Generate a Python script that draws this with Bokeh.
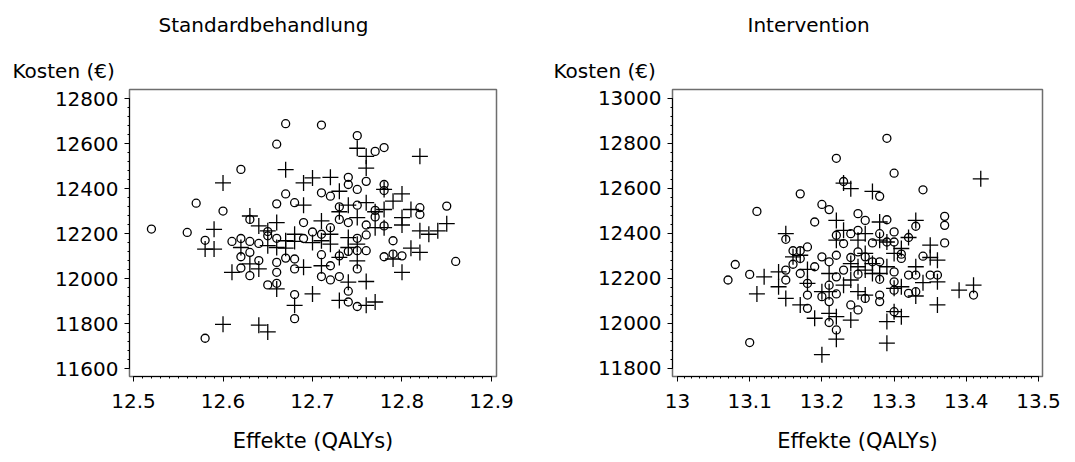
from bokeh.plotting import figure
from bokeh.layouts import row
from bokeh.models import Title, SingleIntervalTicker, CustomJSTickFormatter
from bokeh.embed import file_html
from bokeh.resources import INLINE

FONT = "DejaVu Sans"

# Standardbehandlung: circles (group 1) and crosses (group 2)
std_circ_x = [12.52, 12.56, 12.57, 12.58, 12.58, 12.60, 12.62, 12.61, 12.62, 12.62,
              12.62, 12.63, 12.63, 12.63, 12.63, 12.64, 12.64, 12.65, 12.65, 12.65,
              12.66, 12.66, 12.66, 12.66, 12.66, 12.66, 12.67, 12.67, 12.67, 12.68,
              12.68, 12.68, 12.68, 12.68, 12.69, 12.69, 12.70, 12.71, 12.71, 12.71,
              12.71, 12.71, 12.72, 12.72, 12.72, 12.72, 12.73, 12.73, 12.73, 12.73,
              12.74, 12.74, 12.74, 12.74, 12.74, 12.74, 12.75, 12.75, 12.75, 12.75,
              12.75, 12.75, 12.75, 12.76, 12.76, 12.76, 12.76, 12.77, 12.77, 12.77,
              12.78, 12.78, 12.78, 12.78, 12.78, 12.79, 12.79, 12.80, 12.82, 12.82,
              12.85, 12.86]
std_circ_y = [12220, 12205, 12335, 12170, 11735, 12300, 12485, 12165, 12178, 12097,
              12047, 12263, 12165, 12116, 12013, 12156, 12080, 12209, 12190, 11972,
              12597, 12332, 12179, 12072, 12028, 11979, 12688, 12376, 12091, 12337,
              12087, 12043, 11929, 11822, 12249, 12178, 12207, 12682, 12381, 12197,
              12106, 12009, 12366, 12226, 12057, 11994, 12319, 12263, 12101, 12009,
              12450, 12418, 12249, 12121, 11944, 11896, 12635, 12396, 12326, 12179,
              12124, 12043, 11876, 12432, 12238, 12194, 12124, 12565, 12303, 12274,
              12582, 12418, 12391, 12234, 12097, 12168, 12109, 12101, 12315, 12285,
              12322, 12076]
std_cross_x = [12.60, 12.59, 12.58, 12.59, 12.60, 12.61, 12.62, 12.63, 12.63, 12.64,
               12.64, 12.65, 12.64, 12.65, 12.66, 12.66, 12.66, 12.67, 12.67, 12.68,
               12.68, 12.69, 12.69, 12.69, 12.70, 12.70, 12.70, 12.71, 12.71, 12.72,
               12.72, 12.73, 12.73, 12.73, 12.73, 12.74, 12.74, 12.74, 12.74, 12.75,
               12.75, 12.75, 12.76, 12.76, 12.76, 12.76, 12.76, 12.77, 12.77, 12.78,
               12.78, 12.79, 12.79, 12.80, 12.80, 12.80, 12.81, 12.81, 12.82, 12.82,
               12.82, 12.83, 12.84, 12.85, 12.80, 12.71, 12.72, 12.75, 12.67, 12.65,
               12.68, 12.77, 12.78]
std_cross_y = [12425, 12219, 12131, 12131, 11797, 12028, 12138, 12278, 12065, 12043,
               11793, 11763, 12234, 12212, 12249, 12138, 11954, 12484, 12135, 12165,
               11881, 12326, 12425, 12050, 12447, 11932, 12160, 12256, 12057, 12450,
               12197, 12388, 12297, 12094, 11903, 12326, 12182, 12138, 11984, 12579,
               12271, 12079, 12543, 12491, 12337, 11987, 11881, 11896, 12297, 12396,
               12226, 12344, 12087, 12376, 12271, 12028, 12307, 12135, 12543, 12212,
               12116, 12197, 12212, 12244, 12238, 12168, 12153, 12153, 12168, 12146,
               12197, 12226, 12307]

# Intervention: circles (group 1) and crosses (group 2)
int_circ_x = [13.07, 13.08, 13.10, 13.10, 13.11, 13.15, 13.15, 13.15, 13.16, 13.16,
              13.17, 13.17, 13.17, 13.17, 13.18, 13.18, 13.18, 13.18, 13.19, 13.19,
              13.20, 13.20, 13.20, 13.21, 13.21, 13.21, 13.21, 13.21, 13.22, 13.22,
              13.22, 13.22, 13.22, 13.22, 13.23, 13.23, 13.23, 13.24, 13.24, 13.24,
              13.25, 13.25, 13.25, 13.25, 13.25, 13.26, 13.26, 13.26, 13.27, 13.27,
              13.28, 13.28, 13.28, 13.28, 13.28, 13.28, 13.29, 13.29, 13.29, 13.30,
              13.30, 13.30, 13.30, 13.30, 13.30, 13.30, 13.31, 13.32, 13.32, 13.32,
              13.33, 13.33, 13.33, 13.34, 13.34, 13.35, 13.36, 13.37, 13.37, 13.37,
              13.41, 13.31]
int_circ_y = [12193, 12262, 12218, 11915, 12498, 12237, 12193, 12374, 12323, 12263,
              12576, 12323, 12289, 12222, 12340, 12178, 12126, 12067, 12451, 12252,
              12529, 12296, 12119, 12506, 12274, 12170, 12097, 12004, 12734, 12392,
              12303, 12207, 12131, 11971, 12631, 12355, 12237, 12399, 12293, 12082,
              12488, 12414, 12318, 12219, 12060, 12458, 12296, 12111, 12358, 12274,
              12565, 12399, 12274, 12196, 12126, 12097, 12823, 12461, 12362, 12668,
              12407, 12362, 12229, 12185, 12148, 12052, 12289, 12382, 12215, 12134,
              12432, 12215, 12141, 12594, 12299, 12215, 12215, 12476, 12436, 12358,
              12126, 12308]
int_cross_x = [13.12, 13.11, 13.14, 13.14, 13.15, 13.15, 13.17, 13.17, 13.18, 13.19,
               13.20, 13.21, 13.21, 13.22, 13.22, 13.22, 13.23, 13.23, 13.24, 13.24,
               13.25, 13.25, 13.26, 13.26, 13.27, 13.27, 13.28, 13.28, 13.29, 13.29,
               13.30, 13.31, 13.31, 13.32, 13.33, 13.33, 13.33, 13.34, 13.35, 13.35,
               13.36, 13.36, 13.36, 13.39, 13.41, 13.42, 13.29, 13.30, 13.31, 13.25,
               13.26, 13.23, 13.28, 13.20, 13.21, 13.22, 13.24, 13.30, 13.29, 13.27,
               13.16, 13.18, 13.26, 13.24]
int_cross_y = [12207, 12131, 12229, 12163, 12399, 12111, 12082, 12303, 12240, 12023,
               11861, 12222, 12045, 11930, 12370, 12458, 12624, 12170, 12599, 12015,
               12141, 12370, 12399, 12126, 12587, 12266, 12451, 12222, 12008, 11912,
               12052, 12030, 12163, 12382, 12458, 12252, 12122, 12181, 12348, 12293,
               12281, 12082, 12185, 12148, 12170, 12643, 12362, 12311, 12333, 12252,
               12237, 12414, 12370, 12141, 12141, 12030, 12193, 12156, 12252, 12222,
               12296, 12178, 12311, 12266]

fmt_x = CustomJSTickFormatter(code="return (Math.round(tick * 10) / 10).toString()")


def panel(title, width, border_left, border_right, border_top,
          x_range, y_range, x_bounds, y_bounds,
          cx, cy, kx, ky, title_offset, kosten_offset):
    p = figure(width=width, height=462, output_backend="svg", toolbar_location=None,
               x_range=x_range, y_range=y_range, title=None,
               min_border_left=border_left, min_border_right=border_right,
               min_border_top=border_top, min_border_bottom=86)
    p.grid.visible = False
    p.outline_line_color = "#6e6e6e"
    p.outline_line_width = 1.5
    p.background_fill_color = "white"
    p.border_fill_color = "white"

    p.xaxis.ticker = SingleIntervalTicker(interval=0.1, num_minor_ticks=10)
    p.yaxis.ticker = SingleIntervalTicker(interval=200, num_minor_ticks=5)
    p.xaxis.formatter = fmt_x
    p.xaxis.bounds = x_bounds
    p.yaxis.bounds = y_bounds
    for ax in (p.xaxis[0], p.yaxis[0]):
        ax.axis_line_color = "black"
        ax.major_tick_line_color = "black"
        ax.minor_tick_line_color = "black"
        ax.major_tick_in = 0
        ax.major_tick_out = 5
        ax.minor_tick_in = 0
        ax.minor_tick_out = 2
        ax.major_label_text_font = FONT
        ax.major_label_text_font_size = "20px"
        ax.major_label_text_color = "black"
        ax.major_label_standoff = 6
    p.xaxis.major_label_standoff = 12

    p.xaxis.axis_label = "Effekte (QALYs)"
    p.xaxis.axis_label_text_font = FONT
    p.xaxis.axis_label_text_font_size = "21px"
    p.xaxis.axis_label_text_font_style = "normal"
    p.xaxis.axis_label_text_color = "black"
    p.xaxis.axis_label_standoff = 18

    p.scatter(cx, cy, marker="circle", size=8, fill_alpha=0,
              line_color="black", line_width=1.3)
    p.scatter(kx, ky, marker="cross", size=16,
              line_color="black", line_width=1.3)

    # inner title line: the y-axis caption, outer line: the panel heading
    p.add_layout(Title(text="Kosten (€)", align="left", offset=kosten_offset,
                       text_font=FONT, text_font_size="20px",
                       text_font_style="normal", text_color="black",
                       standoff=14, vertical_align="bottom"), "above")
    p.add_layout(Title(text=title, align="left", offset=title_offset,
                       text_font=FONT, text_font_size="20px",
                       text_font_style="normal", text_color="black",
                       standoff=21, vertical_align="top"), "above")
    return p


p1 = panel("Standardbehandlung", 537, 129, 41, 88,
           (12.4955, 12.9056), (11565, 12840), (12.5, 12.9), (11600, 12800),
           std_circ_x, std_circ_y, std_cross_x, std_cross_y,
           29, -117)
p2 = panel("Intervention", 538, 135, 33, 89,
           (12.9931, 13.5055), (11764, 13040), (13.0, 13.5), (11800, 13000),
           int_circ_x, int_circ_y, int_cross_x, int_cross_y,
           75, -119)

layout = row(p1, p2)
open("out.html", "w").write(file_html(layout, INLINE))
